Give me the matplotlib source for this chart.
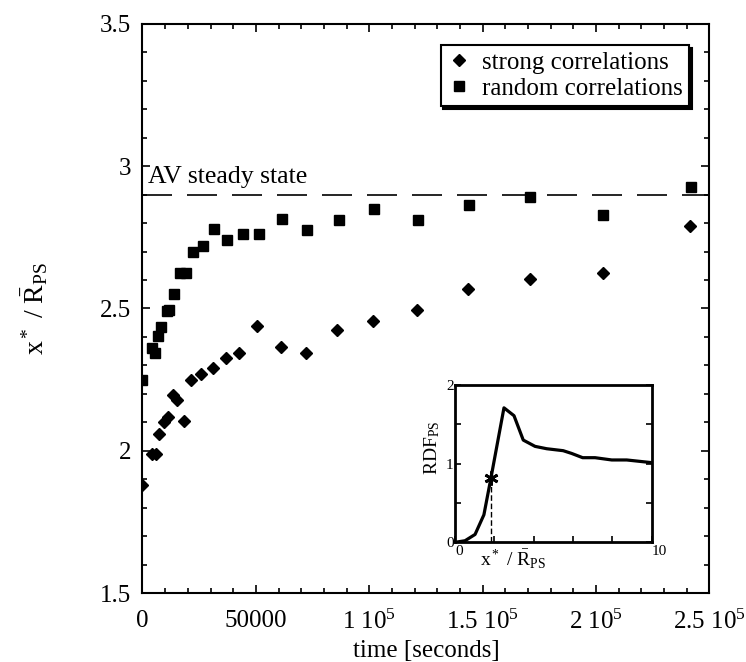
import matplotlib
matplotlib.use('Agg')
import matplotlib.pyplot as plt
import numpy as np
from matplotlib.ticker import MultipleLocator

plt.rcParams['font.family'] = ['Liberation Serif', 'DejaVu Serif']
plt.rcParams['mathtext.fontset'] = 'custom'
plt.rcParams['mathtext.rm'] = 'Liberation Serif'
plt.rcParams['mathtext.it'] = 'Liberation Serif:italic'

# strong correlations (diamonds)
t_strong = [0, 4200, 5900, 7400, 9500, 11100, 13600, 15100, 18400, 21400, 25800,
            30900, 36800, 42700, 50600, 61000, 72100, 86000, 101500, 121000,
            143600, 170900, 203100, 241600]
x_strong = [1.88, 1.99, 1.99, 2.06, 2.10, 2.12, 2.195, 2.18, 2.105, 2.25, 2.27,
            2.29, 2.325, 2.345, 2.44, 2.365, 2.345, 2.425, 2.455, 2.495,
            2.57, 2.605, 2.625, 2.79]

# random correlations (squares)
t_random = [0, 4200, 5500, 7000, 8200, 10700, 11900, 14000, 16500, 19300, 22100,
            26500, 31700, 37100, 44200, 51500, 61700, 72700, 86500, 102000,
            121500, 144000, 171000, 203000, 241800]
x_random = [2.25, 2.36, 2.345, 2.405, 2.435, 2.49, 2.495, 2.55, 2.625, 2.625, 2.70,
            2.72, 2.78, 2.74, 2.76, 2.76, 2.815, 2.775, 2.81, 2.85,
            2.81, 2.865, 2.89, 2.83, 2.925]

av_steady = 2.9

# inset RDF curve
rdf_r = [0, 0.51, 1.02, 1.47, 1.83, 2.49, 3.0, 3.47, 4.07, 4.66, 5.5, 5.93,
         6.49, 7.12, 7.97, 8.73, 10]
rdf_g = [0, 0.02, 0.10, 0.35, 0.82, 1.71, 1.61, 1.30, 1.22, 1.19, 1.165, 1.13,
         1.076, 1.076, 1.047, 1.047, 1.013]
x_star = 1.83
g_star = 0.82

xticks = [0, 50000, 100000, 150000, 200000, 250000]
xticklabels = ['0', '50000', r'1 10$^5$', r'1.5 10$^5$', r'2 10$^5$', r'2.5 10$^5$']
yticks = [1.5, 2, 2.5, 3, 3.5]
yticklabels = ['1.5', '2', '2.5', '3', '3.5']

fig = plt.figure(figsize=(7.46, 6.62), dpi=100)
ax = fig.add_axes([0.191, 0.1038, 0.7598, 0.8604])

ax.plot(t_strong, x_strong, 'D', color='black', ms=6.5, label='strong correlations')
ax.plot(t_random, x_random, 's', color='black', ms=7, label='random correlations')
ax.axhline(av_steady, color='black', lw=1.2, dashes=(18, 9))
ax.text(2500, 2.94, 'AV steady state', fontsize=18.5, va='baseline', ha='left')

ax.set_xlim(0, 250000)
ax.set_ylim(1.5, 3.5)
ax.set_xticks(xticks)
ax.set_xticklabels(xticklabels)
ax.set_yticks(yticks)
ax.set_yticklabels(yticklabels)
ax.xaxis.set_minor_locator(MultipleLocator(10000))
ax.yaxis.set_minor_locator(MultipleLocator(0.1))
ax.tick_params(which='both', direction='in', top=True, right=True, labelsize=18, width=1.2)
ax.tick_params(which='major', length=6)
ax.tick_params(which='minor', length=3.5)
ax.tick_params(axis='x', which='major', pad=12)
ax.tick_params(axis='y', which='major', pad=8)
for s in ax.spines.values():
    s.set_linewidth(1.5)

ax.set_xlabel('time [seconds]', fontsize=18, labelpad=4)
ax.set_ylabel(r'x$^*$ / $\bar{\mathrm{R}}_{\mathrm{PS}}$', fontsize=20, labelpad=36)

leg = ax.legend(loc='upper right', bbox_to_anchor=(0.964, 0.9626), fontsize=18,
                fancybox=False, shadow={'color': 'black', 'alpha': 1},
                handletextpad=0.4, borderpad=0.25, labelspacing=0.15,
                handlelength=1.0, borderaxespad=0)
leg.get_frame().set_edgecolor('black')
leg.get_frame().set_linewidth(1.5)

# inset
axi = fig.add_axes([0.6099, 0.1808, 0.2637, 0.2376])
axi.plot(rdf_r, rdf_g, color='black', lw=2.3)
axi.plot([x_star, x_star], [0, g_star], color='black', lw=1, dashes=(4, 2))
axi.plot(x_star, g_star, marker=(6, 2, 0), color='black', ms=10, mew=2)
axi.set_xlim(0, 10)
axi.set_ylim(0, 2)
axi.set_xticks([0, 10])
axi.set_xticklabels(['0', '10'], ha='left')
axi.set_yticks([0, 1, 2])
axi.set_yticklabels(['0', '1', '2'])
axi.xaxis.set_minor_locator(MultipleLocator(2))
axi.yaxis.set_minor_locator(MultipleLocator(0.5))
axi.tick_params(which='both', direction='in', labelsize=11, right=True, width=1.2,
                length=4, pad=2)
axi.tick_params(axis='y', which='major', pad=1)
for s in axi.spines.values():
    s.set_linewidth(2)
axi.set_ylabel(r'RDF$_{\mathrm{PS}}$', fontsize=14, labelpad=0)
axi.yaxis.set_label_coords(-0.065, 0.6)
axi.text(2.95, -0.07, r'x$^*$ / $\bar{\mathrm{R}}_{\mathrm{PS}}$', fontsize=14,
         ha='center', va='top')

plt.savefig('out.png', dpi=100)
